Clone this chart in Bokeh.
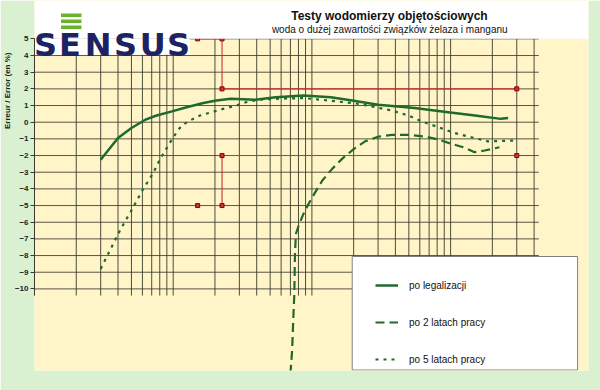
import numpy as np
from bokeh.plotting import figure
from bokeh.models import Range1d, FixedTicker, Title, Legend, LegendItem
from bokeh.embed import file_html
from bokeh.resources import INLINE
from bokeh.core.properties import value

# ---------------- data (flow in l/h, error in %) ----------------
q_legal = [3, 4, 5, 6.3, 7.6, 9.8, 12.5, 16.5, 20.5, 26, 39, 55, 87, 137, 195, 300, 550, 960, 1500, 2300, 2600]
e_legal = [-2.25, -0.95, -0.35, 0.15, 0.4, 0.65, 0.9, 1.15, 1.3, 1.4, 1.35, 1.5, 1.6, 1.5, 1.3, 1.05, 0.85, 0.6, 0.4, 0.2, 0.25]

q_2y = [70, 72, 73.5, 74.7, 75.5, 76.7, 81, 88, 96, 104, 119, 140, 165, 201, 243, 303, 378, 497, 653, 815, 1015, 1230, 1490, 1760, 2250]
e_2y = [-15.1, -13.7, -11.7, -10.3, -7.9, -6.7, -6.1, -5.4, -4.8, -4.3, -3.5, -2.8, -2.2, -1.6, -1.14, -0.86, -0.76, -0.76, -0.86, -1.04, -1.3, -1.5, -1.8, -1.7, -1.5]

q_5y = [3.0, 3.26, 3.54, 4.13, 4.53, 4.92, 5.64, 6.13, 6.77, 7.43, 8.07, 8.77, 9.61, 10.6, 11.5, 13.2, 15.6, 18.9, 22.9, 28.5, 33.6, 41.5, 55, 87, 133, 218, 377, 497, 619, 815, 1070, 1410, 1860, 2880]
e_5y = [-8.8, -8.2, -7.6, -6.5, -5.9, -5.4, -4.5, -3.95, -3.4, -2.8, -2.2, -1.7, -1.15, -0.6, -0.2, 0.1, 0.4, 0.6, 0.8, 1.0, 1.2, 1.35, 1.4, 1.45, 1.3, 1.1, 0.7, 0.4, 0.05, -0.3, -0.65, -0.9, -1.15, -1.1]

lim_q = [15, 22.5, 22.5, 3000]
lim_upper = [5, 5, 2, 2]
lim_lower = [-5, -5, -2, -2]

y_ticks = list(range(-10, 6))
labels = ["po legalizacji", "po 2 latach pracy", "po 5 latach pracy"]
title_text = "Testy wodomierzy objętościowych"
subtitle_text = "woda o dużej zawartości związków żelaza i manganu"
ylabel_text = "Erreur / Error (en %)"
logo_letters = list("SENSUS")

# ---------------- layout helpers (page pixel -> data) ----------------
X0, DEC = 30.0, 139.7      # page x of q=1, pixels per decade
Y0, UNIT = 121.7, 16.67    # page y of e=0, pixels per %
def X(px):
    return 10 ** ((px - X0) / DEC)
def Y(py):
    return (Y0 - py) / UNIT

YELLOW = "#FFF5C9"
GREEN = "#D9F1D1"
DARK = "#3b3b2c"
CURVE = "#1d6a2a"
RED = "#c83232"
FONT = "Liberation Sans"

p = figure(width=600, height=390, x_axis_type="log", x_axis_location=None,
           x_range=Range1d(X(30), X(588)), y_range=Range1d(Y(370), Y(0)),
           min_border_left=30, min_border_right=12, min_border_top=0, min_border_bottom=20,
           output_backend="svg", toolbar_location=None, title=None,
           background_fill_color=YELLOW, border_fill_color=GREEN, outline_line_color=None)
p.grid.visible = False

# y axis
ax = p.yaxis[0]
ax.ticker = FixedTicker(ticks=y_ticks)
ax.bounds = (-10.4, 5)
ax.axis_line_color = DARK
ax.major_tick_line_color = DARK
ax.major_tick_out = 4
ax.major_tick_in = 0
ax.minor_tick_line_color = None
ax.major_label_standoff = 2
ax.major_label_text_font = FONT
ax.major_label_text_font_size = "8px"
ax.major_label_text_font_style = "bold"
ax.major_label_text_color = "#222222"

# y axis title (vertical, near the top like the original)
p.add_layout(Title(text=ylabel_text, align="right", offset=52, standoff=0,
                   text_font=FONT, text_font_size="8px", text_font_style="bold",
                   text_color="#222222"), "left")

# grid
gx = [k * 10 ** d for d in range(4) for k in range(1, 10) if k * 10 ** d <= 4000]
p.segment(x0=gx, x1=gx, y0=[-10.4] * len(gx), y1=[5] * len(gx), line_color=DARK, line_width=1, line_alpha=0.9)
p.segment(x0=[1] * len(y_ticks), x1=[X(538)] * len(y_ticks), y0=y_ticks, y1=y_ticks,
          line_color=DARK, line_width=1, line_alpha=0.85)

# limit lines
for lim in (lim_upper, lim_lower):
    p.line(lim_q, lim, line_color=RED, line_width=1.1)
    p.scatter(lim_q, lim, marker="square", size=4, fill_color=RED, line_color="#8b0000")

# header & logo
p.quad(left=[X(30)], right=[X(588)], bottom=[5], top=[Y(0)], fill_color="white", line_color=None)
p.quad(left=[X(30)], right=[X(186.5)], bottom=[Y(54.3)], top=[5], fill_color="white", line_color=None)
bar_top = [13, 19, 25]
p.quad(left=[X(56.7)] * 3, right=[X(77.3)] * 3, top=[Y(t) for t in bar_top],
       bottom=[Y(t + 3.6) for t in bar_top], fill_color="#6ab42d", line_color=None)
p.text(x=[X(c) for c in [41.2, 65.8, 94.2, 121.7, 149.2, 175.0]], y=[Y(44.9)] * 6, text=logo_letters,
       text_font=value("DejaVu Sans"), text_font_style="bold", text_font_size="32px",
       text_color="#1c2362", text_align="center", text_baseline="alphabetic")
p.text(x=[X(387.5)], y=[Y(15.6)], text=[title_text], text_font=value(FONT), text_font_style="bold",
       text_font_size="12px", text_color="#111111", text_align="center", text_baseline="alphabetic")
p.text(x=[X(387.8)], y=[Y(28.6)], text=[subtitle_text], text_font=value(FONT),
       text_font_size="10px", text_color="#111111", text_align="center", text_baseline="alphabetic")

# legend box
p.quad(left=[X(350)], right=[X(577)], top=[Y(256)], bottom=[Y(369.5)], fill_color="white",
       line_color="#808080", line_width=1)

# curves
r1 = p.line(q_legal, e_legal, line_color=CURVE, line_width=2.5)
r2 = p.line(q_2y, e_2y, line_color=CURVE, line_width=2.2, line_dash="9 5")
r3 = p.line(q_5y, e_5y, line_color=CURVE, line_width=2.2, line_dash="3 5")

leg = Legend(items=[LegendItem(label=labels[0], renderers=[r1]),
                    LegendItem(label=labels[1], renderers=[r2]),
                    LegendItem(label=labels[2], renderers=[r3])],
             location=(350 + 30 - 9 - 30, 1), padding=9, spacing=17, glyph_width=23, glyph_height=20,
             label_height=20, label_standoff=11, label_text_font=FONT, label_text_font_size="10px",
             label_text_color="#111111", background_fill_alpha=0, border_line_color=None, margin=0)
p.add_layout(leg)

open("out.html", "w").write(file_html(p, INLINE))
